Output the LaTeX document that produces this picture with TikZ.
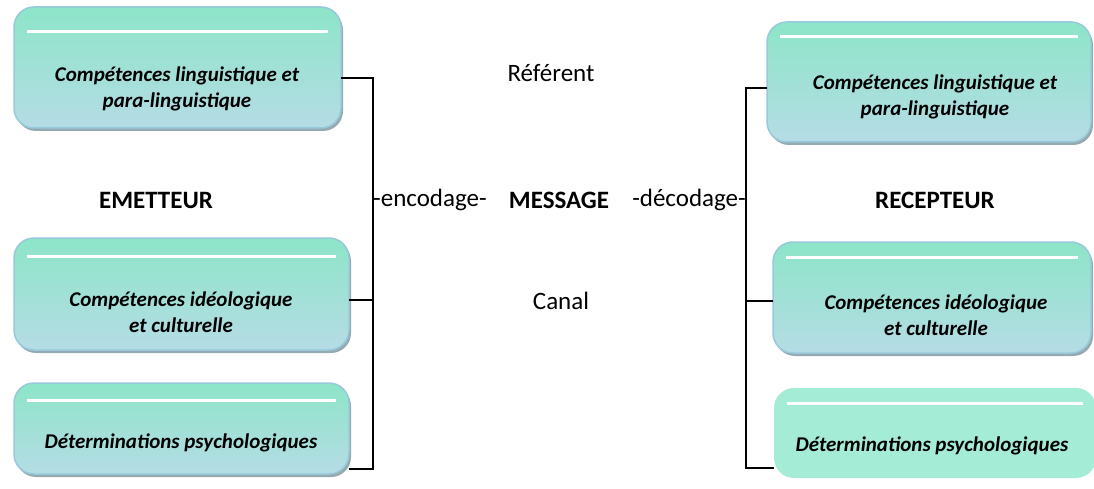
\documentclass[tikz,border=0pt]{standalone}
\usepackage{fontspec}
\setmainfont{Carlito}
\usetikzlibrary{shadows,calc}
\definecolor{topc}{HTML}{8DE5C8}
\definecolor{botc}{HTML}{B5DCE5}
\definecolor{bordc}{HTML}{97C9DA}
\definecolor{shadc}{HTML}{95A9B1}
\definecolor{flatc}{HTML}{A5ECD6}
\begin{document}
\begin{tikzpicture}[x=1pt,y=-1pt,
  cbox/.style={rectangle, rounded corners=20pt, draw=bordc, line width=1.5pt, top color=topc, bottom color=botc,
    inner sep=0pt, outer sep=0pt,
    drop shadow={shadow xshift=2pt, shadow yshift=-3pt, fill=shadc, opacity=1}},
  flatbox/.style={rectangle, rounded corners=20pt, fill=flatc, inner sep=0pt, outer sep=0pt},
  wline/.style={draw=white, line width=3pt},
  btext/.style={font=\fontsize{21}{25.5}\selectfont\bfseries\itshape, align=center, inner sep=0pt},
  mtext/.style={font=\fontsize{25}{30}\selectfont, inner sep=0pt},
  htext/.style={font=\fontsize{25}{30}\selectfont\bfseries, inner sep=0pt},
  conn/.style={draw=black, line width=1.5pt}
]
\useasboundingbox (0,0) rectangle (1094,489);
% left boxes
\node[cbox, minimum width=327pt, minimum height=121pt] (L1) at (177.5,67.5) {};
\node[cbox, minimum width=335pt, minimum height=112pt] (L2) at (181.5,294) {};
\node[cbox, minimum width=335pt, minimum height=91pt] (L3) at (181.5,428.5) {};
% right boxes
\node[cbox, minimum width=324pt, minimum height=120pt] (R1) at (929,82) {};
\node[cbox, minimum width=318pt, minimum height=111pt] (R2) at (932,297.5) {};
\node[flatbox, minimum width=322pt, minimum height=90pt] (R3) at (935,433) {};
% white lines
\foreach \b/\d in {L1/25, L2/18, L3/17, R1/15, R2/15, R3/15}{
  \draw[wline] ($(\b.north west)+(13,\d)$) -- ($(\b.north east)+(-13,\d)$);
}
% box texts
\node[btext] (tL1) at (177,89) {Compétences linguistique et\\para-linguistique};
\node[btext] (tL2) at (181,312) {Compétences idéologique\\et culturelle};
\node[btext] (tL3) at (181,443) {Déterminations psychologiques};
\node[btext] (tR1) at (935,97) {Compétences linguistique et\\para-linguistique};
\node[btext] (tR2) at (936,315) {Compétences idéologique\\et culturelle};
\node[btext] (tR3) at (932,446) {Déterminations psychologiques};
% brackets
\coordinate (lb1) at (373,78);
\coordinate (lb2) at (373,300);
\coordinate (lb3) at (373,469);
\coordinate (rb1) at (746,88);
\coordinate (rb2) at (746,301);
\coordinate (rb3) at (746,468);
\draw[conn] (L1.east |- lb1) -- (lb1) -- (lb3) -- (L3.east |- lb3);
\draw[conn] (L2.east |- lb2) -- (lb2);
\draw[conn] (R1.west |- rb1) -- (rb1) -- (rb3) -- (R3.west |- rb3);
\draw[conn] (R2.west |- rb2) -- (rb2);
% middle texts
\node[mtext, anchor=west] (enc) at (373,200) {-encodage-};
\node[htext] (msg) at (559,200) {MESSAGE};
\node[mtext, anchor=east] (dec) at (746,200) {-décodage-};
\node[mtext] (ref) at (551,73) {Référent};
\node[mtext] (can) at (561,301) {Canal};
\node[htext] (em) at (156,200) {EMETTEUR};
\node[htext] (re) at (935,200) {RECEPTEUR};
\end{tikzpicture}
\end{document}
